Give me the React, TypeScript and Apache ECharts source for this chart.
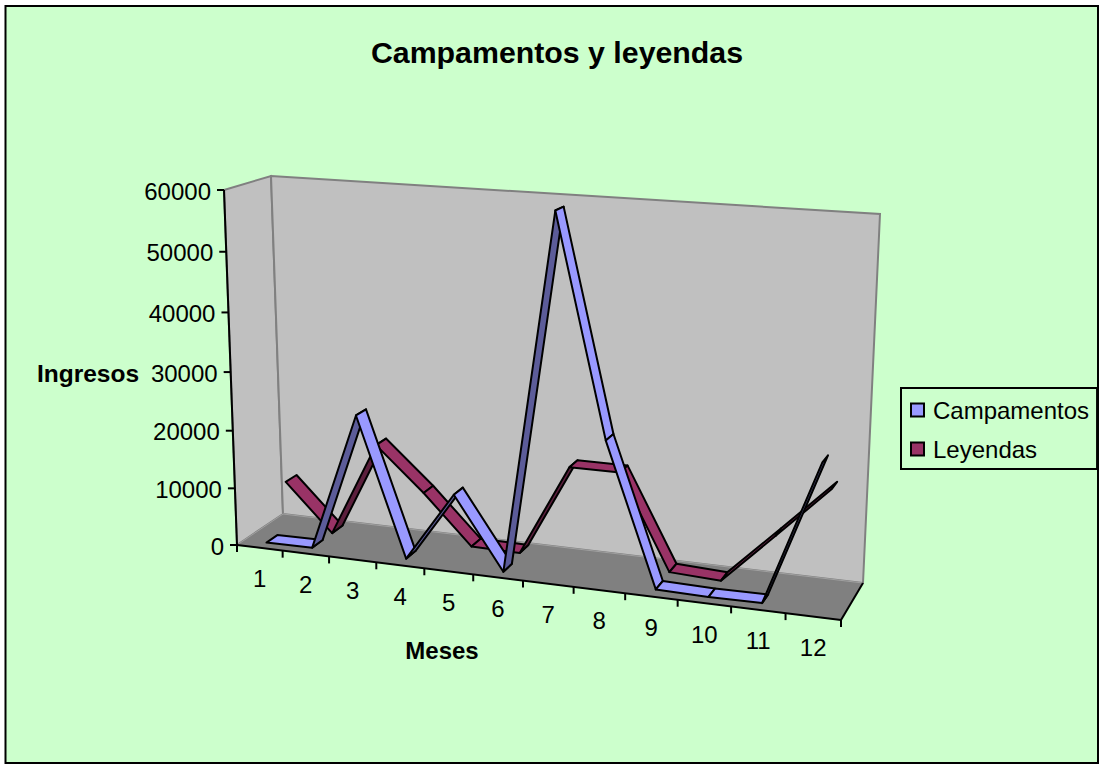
import React, { useEffect, useRef } from "react";
import * as echarts from "echarts";

const titleText = "Campamentos y leyendas";
const xAxisName = "Meses";
const yAxisName = "Ingresos";
const months = [1, 2, 3, 4, 5, 6, 7, 8, 9, 10, 11, 12];
const yTicks = [0, 10000, 20000, 30000, 40000, 50000, 60000];
const campamentos = [100, 200, 24000, 300, 12300, 100, 59800, 24000, 300, 100, 200, 24000];
const leyendas = [8500, 200, 16800, 9300, 800, 700, 16500, 16500, 500, 100, 8700, 17400];

const FONT = '"Liberation Sans", Arial, sans-serif';
const GRID = { left: 100, top: 100, width: 600, height: 400 };

type P = [number, number];
const F0: P = [237, 545], F1: P = [841, 620], T0: P = [224, 190], T1: P = [857, 232];
const B0: P = [283, 514], B1: P = [863, 583], TB0: P = [271, 176], TB1: P = [880, 214];
const mix = (a: P, b: P, t: number): P => [a[0] + (b[0] - a[0]) * t, a[1] + (b[1] - a[1]) * t];
const warp = (t: number, c: number) => t / (1 + c * (1 - t));

// maps a point of the hidden cartesian grid, plus a depth, onto the skewed 3D box
function project(pt: number[], w: number): P {
  const u = warp((pt[0] - GRID.left) / GRID.width, 0.112);
  const v = warp((GRID.top + GRID.height - pt[1]) / GRID.height, 0.053);
  const front = mix(mix(F0, F1, u), mix(T0, T1, u), v);
  const back = mix(mix(B0, B1, u), mix(TB0, TB1, u), v);
  return mix(front, back, w);
}

function ribbon(values: number[], wf: number, wb: number, top: string, under: string) {
  return (params: any, api: any) => {
    const i = params.dataIndex;
    if (i >= values.length - 1) return { type: "group", children: [] };
    const a = api.coord([api.value(0), api.value(1)]);
    const b = api.coord([months[i + 1] - 0.5, values[i + 1]]);
    const pts = [project(a, wf), project(b, wf), project(b, wb), project(a, wb)];
    let area = 0;
    pts.forEach((p, k) => {
      const q = pts[(k + 1) % 4];
      area += p[0] * q[1] - q[0] * p[1];
    });
    return {
      type: "polygon",
      shape: { points: pts },
      style: { fill: area > 0 ? under : top, stroke: "#000", lineWidth: 2, lineJoin: "round" },
    };
  };
}

const textStyle = (text: string, x: number, y: number, align: string, size: number) => ({
  type: "text",
  style: {
    text, x, y, font: `${size}px ${FONT}`, fill: "#000",
    align, textAlign: align, verticalAlign: "middle", textVerticalAlign: "middle",
  },
});

export default function App() {
  const ref = useRef<HTMLDivElement>(null);
  useEffect(() => {
    const chart = echarts.init(ref.current!, undefined, { renderer: "svg" });
    const wall = (pts: P[], fill: string) => ({
      type: "polygon", z: 1, shape: { points: pts }, style: { fill, stroke: "#808080", lineWidth: 2 },
    });
    const line = (a: P, b: P, stroke: string, lineWidth = 2) => ({
      type: "line", z: 2,
      shape: { x1: a[0], y1: a[1], x2: b[0], y2: b[1] }, style: { stroke, lineWidth },
    });
    chart.setOption({
      animation: false,
      grid: { ...GRID, show: false },
      xAxis: { type: "value", min: 0, max: 12, show: false },
      yAxis: { type: "value", min: 0, max: 60000, interval: 10000, show: false },
      legend: {
        left: 901, top: 388, orient: "vertical", icon: "rect",
        data: ["Campamentos", "Leyendas"],
        itemWidth: 13, itemHeight: 13, itemGap: 15,
        padding: [10, 8, 8, 9],
        backgroundColor: "#CCFFCC", borderColor: "#000", borderWidth: 2, borderRadius: 0,
        textStyle: { fontFamily: FONT, fontSize: 24, color: "#000", padding: [0, 0, 0, 4] },
        itemStyle: { borderColor: "#000", borderWidth: 2 },
        selectedMode: false,
      },
      graphic: [
        { type: "rect", z: 0, shape: { x: 5.5, y: 6, width: 1092.5, height: 757 }, style: { fill: "#CCFFCC", stroke: "#000", lineWidth: 2 } },
        wall([T0, TB0, B0, F0], "#C0C0C0"),
        wall([TB0, TB1, B1, B0], "#C0C0C0"),
        { type: "polygon", z: 1, shape: { points: [F0, B0, B1, F1] }, style: { fill: "#808080", stroke: "#A0A0A0", lineWidth: 1 } },
        line(T0, F0, "#000"),
        line(F0, F1, "#000"),
        line(F1, B1, "#000"),
        { type: "text", z: 3, style: { text: titleText, x: 557, y: 52, font: `bold 30.3px ${FONT}`, fill: "#000", align: "center", textAlign: "center", verticalAlign: "middle", textVerticalAlign: "middle" } },
        { type: "text", z: 3, style: { text: yAxisName, x: 88, y: 373, font: `bold 24.5px ${FONT}`, fill: "#000", align: "center", textAlign: "center", verticalAlign: "middle", textVerticalAlign: "middle" } },
        { type: "text", z: 3, style: { text: xAxisName, x: 442, y: 650, font: `bold 24px ${FONT}`, fill: "#000", align: "center", textAlign: "center", verticalAlign: "middle", textVerticalAlign: "middle" } },
      ],
      series: [
        {
          type: "custom", name: "yTicks", silent: true, z: 3, coordinateSystem: "cartesian2d",
          data: yTicks.map((v) => [0, v]), encode: { x: 0, y: 1 },
          renderItem: (_: any, api: any) => {
            const p = project(api.coord([0, api.value(1)]), 0);
            return {
              type: "group",
              children: [
                { type: "line", shape: { x1: p[0] - 7, y1: p[1], x2: p[0], y2: p[1] }, style: { stroke: "#000", lineWidth: 2 } },
                textStyle(String(api.value(1)), p[0] - 13, p[1] + 1, "right", 24),
              ],
            };
          },
        },
        {
          type: "custom", name: "xTicks", silent: true, z: 3, coordinateSystem: "cartesian2d",
          data: [0, ...months].map((m) => [m, 0]), encode: { x: 0, y: 1 },
          renderItem: (_: any, api: any) => {
            const m = api.value(0);
            const p = project(api.coord([m, 0]), 0);
            return { type: "line", shape: { x1: p[0], y1: p[1], x2: p[0], y2: p[1] + 7 }, style: { stroke: "#000", lineWidth: 2 } };
          },
        },
        {
          type: "custom", name: "xLabels", silent: true, z: 3, coordinateSystem: "cartesian2d",
          data: months.map((m) => [m - 0.5, 0]), encode: { x: 0, y: 1 },
          renderItem: (params: any, api: any) => {
            const p = project(api.coord([api.value(0), 0]), 0);
            return textStyle(String(months[params.dataIndex]), p[0], p[1] + 31, "center", 24);
          },
        },
        {
          type: "custom", name: "Leyendas", z: 4, coordinateSystem: "cartesian2d", clip: false,
          itemStyle: { color: "#993366" },
          data: months.map((m, i) => [m - 0.5, leyendas[i]]), encode: { x: 0, y: 1 },
          renderItem: ribbon(leyendas, 0.61, 0.85, "#993366", "#5C1F3D"),
        },
        {
          type: "custom", name: "Campamentos", z: 5, coordinateSystem: "cartesian2d", clip: false,
          itemStyle: { color: "#9999FF" },
          data: months.map((m, i) => [m - 0.5, campamentos[i]]), encode: { x: 0, y: 1 },
          renderItem: ribbon(campamentos, 0.15, 0.39, "#9999FF", "#5C5C99"),
        },
      ],
    });
    return () => chart.dispose();
  }, []);
  return <div ref={ref} style={{ position: "absolute", left: 0, top: 0, width: 1104, height: 766 }} />;
}
